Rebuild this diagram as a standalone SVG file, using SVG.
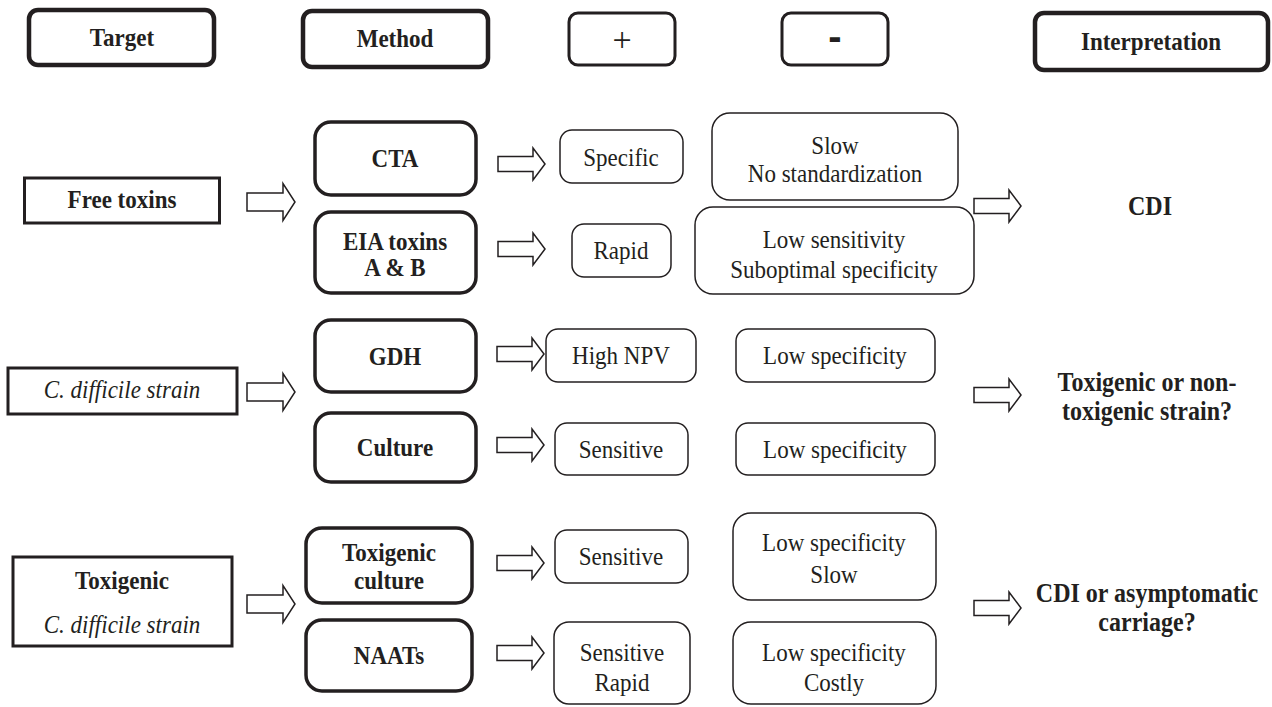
<svg xmlns="http://www.w3.org/2000/svg" xmlns:xlink="http://www.w3.org/1999/xlink" width="1272" height="707" viewBox="0 0 1272 707">
  <style>
    .box { fill: #fff; stroke: #231f20; }
    .hdr { stroke-width: 4.5; }
    .sgn { stroke-width: 3; }
    .tgt { stroke-width: 3; }
    .mth { stroke-width: 3.5; }
    .prp { stroke-width: 1.5; }
    .arw { fill: #fff; stroke: #231f20; stroke-width: 1.5; stroke-linejoin: miter; }
    text { font-family: "Liberation Serif", "Times New Roman", serif; font-size: 26px; fill: #231f20; text-anchor: middle; }
    .b { font-weight: bold; }
    .i { font-style: italic; }
    .big { font-size: 27px; }
  </style>
  <defs>
    <!-- hollow block arrow, origin at tail centre -->
    <path id="arrow" d="M0,-7.5 H35 V-16 L47,0 L35,16 V7.5 H0 Z"/>
    <path id="arrowL" d="M0,-9 H36 V-18.5 L48,0 L36,18.5 V9 H0 Z"/>
  </defs>

  <!-- column headers -->
  <g id="hdr-target"><rect class="box hdr" x="29" y="10" width="185" height="55" rx="9"/>
    <g transform="translate(122 0) scale(0.885 1)"><text class="b" y="46">Target</text></g></g>
  <g id="hdr-method"><rect class="box hdr" x="303" y="11" width="185" height="56" rx="9"/>
    <g transform="translate(395 0) scale(0.885 1)"><text class="b" y="47">Method</text></g></g>
  <g id="hdr-plus"><rect class="box sgn" x="569" y="13" width="106" height="52" rx="9"/>
    <text x="622" y="51" style="font-size:34px">+</text></g>
  <g id="hdr-minus"><rect class="box sgn" x="782" y="13" width="106" height="52" rx="9"/>
    <text class="b" x="835" y="50" style="font-family:'Liberation Sans',Arial,sans-serif;font-size:40px">-</text></g>
  <g id="hdr-interp"><rect class="box hdr" x="1035" y="13" width="233" height="57" rx="9"/>
    <g transform="translate(1151 0) scale(0.885 1)"><text class="b" y="50">Interpretation</text></g></g>

  <!-- targets -->
  <g id="t-free"><rect class="box tgt" x="24.5" y="178" width="195" height="45"/>
    <g transform="translate(122 0) scale(0.885 1)"><text class="b" y="208">Free toxins</text></g></g>
  <g id="t-strain"><rect class="box tgt" x="8" y="368" width="229" height="46"/>
    <g transform="translate(122 0) scale(0.885 1)"><text class="i" y="398">C. difficile strain</text></g></g>
  <g id="t-toxigenic"><rect class="box tgt" x="13" y="557" width="219" height="89"/>
    <g transform="translate(122 0) scale(0.885 1)"><text class="b" y="589">Toxigenic</text><text class="i" y="633">C. difficile strain</text></g></g>

  <!-- methods -->
  <g id="m-cta"><rect class="box mth" x="315" y="122" width="161" height="73" rx="16"/>
    <g transform="translate(395 0) scale(0.885 1)"><text class="b" y="167">CTA</text></g></g>
  <g id="m-eia"><rect class="box mth" x="315" y="212" width="161" height="81" rx="16"/>
    <g transform="translate(395 0) scale(0.885 1)"><text class="b" y="250">EIA toxins</text><text class="b" y="276">A &amp; B</text></g></g>
  <g id="m-gdh"><rect class="box mth" x="315" y="320" width="161" height="72" rx="16"/>
    <g transform="translate(395 0) scale(0.885 1)"><text class="b" y="365">GDH</text></g></g>
  <g id="m-culture"><rect class="box mth" x="315" y="413" width="161" height="69" rx="16"/>
    <g transform="translate(395 0) scale(0.885 1)"><text class="b" y="456">Culture</text></g></g>
  <g id="m-toxculture"><rect class="box mth" x="306" y="528" width="166" height="75" rx="16"/>
    <g transform="translate(389 0) scale(0.885 1)"><text class="b" y="561">Toxigenic</text><text class="b" y="589">culture</text></g></g>
  <g id="m-naats"><rect class="box mth" x="306" y="620" width="166" height="71" rx="16"/>
    <g transform="translate(389 0) scale(0.885 1)"><text class="b" y="664">NAATs</text></g></g>

  <!-- advantages -->
  <g id="p-specific"><rect class="box prp" x="560" y="130" width="123" height="53" rx="12"/>
    <g transform="translate(621 0) scale(0.885 1)"><text y="166">Specific</text></g></g>
  <g id="p-rapid"><rect class="box prp" x="572" y="224" width="99" height="53" rx="12"/>
    <g transform="translate(621 0) scale(0.885 1)"><text y="259">Rapid</text></g></g>
  <g id="p-npv"><rect class="box prp" x="546" y="329" width="150" height="53" rx="12"/>
    <g transform="translate(621 0) scale(0.885 1)"><text y="364">High NPV</text></g></g>
  <g id="p-sens1"><rect class="box prp" x="555" y="423" width="133" height="52" rx="12"/>
    <g transform="translate(621 0) scale(0.885 1)"><text y="458">Sensitive</text></g></g>
  <g id="p-sens2"><rect class="box prp" x="555" y="530" width="133" height="53" rx="12"/>
    <g transform="translate(621 0) scale(0.885 1)"><text y="565">Sensitive</text></g></g>
  <g id="p-sensrapid"><rect class="box prp" x="554" y="622" width="136" height="82" rx="15"/>
    <g transform="translate(622 0) scale(0.885 1)"><text y="661">Sensitive</text><text y="691">Rapid</text></g></g>

  <!-- drawbacks -->
  <g id="n-slow"><rect class="box prp" x="712" y="113" width="246" height="87" rx="18"/>
    <g transform="translate(835 0) scale(0.885 1)"><text y="154">Slow</text><text y="182">No standardization</text></g></g>
  <g id="n-lowsens"><rect class="box prp" x="695" y="207" width="279" height="87" rx="18"/>
    <g transform="translate(834 0) scale(0.885 1)"><text y="248">Low sensitivity</text><text y="278">Suboptimal specificity</text></g></g>
  <g id="n-lowspec1"><rect class="box prp" x="736" y="329" width="199" height="53" rx="12"/>
    <g transform="translate(835 0) scale(0.885 1)"><text y="364">Low specificity</text></g></g>
  <g id="n-lowspec2"><rect class="box prp" x="736" y="423" width="199" height="52" rx="12"/>
    <g transform="translate(835 0) scale(0.885 1)"><text y="458">Low specificity</text></g></g>
  <g id="n-lowspecslow"><rect class="box prp" x="733" y="513" width="203" height="87" rx="18"/>
    <g transform="translate(834 0) scale(0.885 1)"><text y="551">Low specificity</text><text y="583">Slow</text></g></g>
  <g id="n-lowspeccostly"><rect class="box prp" x="733" y="622" width="203" height="82" rx="18"/>
    <g transform="translate(834 0) scale(0.885 1)"><text y="661">Low specificity</text><text y="691">Costly</text></g></g>

  <!-- interpretations -->
  <g id="i-cdi"><g transform="translate(1150 0) scale(0.89 1)"><text class="b big" y="215">CDI</text></g></g>
  <g id="i-strain"><g transform="translate(1147 0) scale(0.89 1)"><text class="b big" y="391">Toxigenic or non-</text><text class="b big" y="420">toxigenic strain?</text></g></g>
  <g id="i-carriage"><g transform="translate(1147 0) scale(0.89 1)"><text class="b big" y="602">CDI or asymptomatic</text><text class="b big" y="631">carriage?</text></g></g>

  <!-- connectors -->
  <g id="connectors">
    <use class="arw" xlink:href="#arrowL" x="247" y="202"/>
    <use class="arw" xlink:href="#arrowL" x="247" y="392"/>
    <use class="arw" xlink:href="#arrowL" x="247" y="604"/>
    <use class="arw" xlink:href="#arrow" x="498" y="164"/>
    <use class="arw" xlink:href="#arrow" x="498" y="249"/>
    <use class="arw" xlink:href="#arrow" x="497" y="354"/>
    <use class="arw" xlink:href="#arrow" x="497" y="445"/>
    <use class="arw" xlink:href="#arrow" x="497" y="563"/>
    <use class="arw" xlink:href="#arrow" x="497" y="653"/>
    <use class="arw" xlink:href="#arrow" x="974" y="206"/>
    <use class="arw" xlink:href="#arrow" x="974" y="395"/>
    <use class="arw" xlink:href="#arrow" x="974" y="608"/>
  </g>
</svg>
